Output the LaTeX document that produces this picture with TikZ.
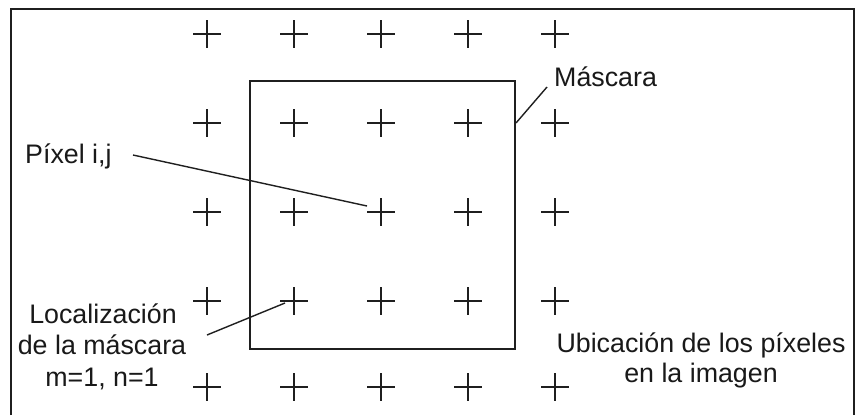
\documentclass[tikz,border=0pt]{standalone}
\usepackage{fontspec}
\setmainfont{Liberation Sans}
\begin{document}
\begin{tikzpicture}[x=1bp,y=-1bp,
  ink/.style={draw=black!88},
  pix/.style={minimum size=28bp, inner sep=0pt, outer sep=0pt,
    path picture={\draw[black!88,line width=1.9bp]
      (path picture bounding box.north) -- (path picture bounding box.south)
      (path picture bounding box.west) -- (path picture bounding box.east);}},
  lbl/.style={inner sep=0pt, text=black!90, font=\fontsize{26.8bp}{31bp}\selectfont},
  lead/.style={draw=black!88, line width=1.4bp}]
\useasboundingbox (0,0) rectangle (857,415);
\fill[white] (0,0) rectangle (857,415);
% frame (bottom edge lies outside the picture)
\draw[ink, line width=1.9bp] (11,415) -- (11,9) -- (854,9) -- (854,415);
% pixel grid
\foreach \c/\x in {1/207,2/294,3/381,4/468,5/555}{
  \foreach \r/\y in {1/34,2/123,3/212,4/301,5/387}{
    \node[pix] (p\r\c) at (\x,\y) {};
  }
}
% mask
\node[draw=black!88, line width=1.9bp, minimum width=265bp, minimum height=268bp,
      inner sep=0pt] (mask) at (382.5,215) {};
% labels
\node[lbl, anchor=base west] (lpix) at (25,163) {Píxel i,j};
\node[lbl, anchor=base west] (lmask) at (554,86) {Máscara};
\node[lbl, anchor=base] (lloc1) at (103,323) {Localización};
\node[lbl, anchor=base] (lloc2) at (102,354) {de la máscara};
\node[lbl, anchor=base] (lloc3) at (102,386) {m=1, n=1};
\node[lbl, anchor=base] (lub1) at (701,352) {Ubicación de los píxeles};
\node[lbl, anchor=base] (lub2) at (701,382) {en la imagen};
% leader lines
\coordinate (a1) at (133,155);
\coordinate (a2) at (367,206);
\draw[lead] (a1) -- (a2);
\coordinate (b1) at (547,87);
\coordinate (b2) at (516,123);
\draw[lead] (b1) -- (b2);
\coordinate (c1) at (207,335);
\coordinate (c2) at (285,303);
\draw[lead] (c1) -- (c2);
\end{tikzpicture}
\end{document}
